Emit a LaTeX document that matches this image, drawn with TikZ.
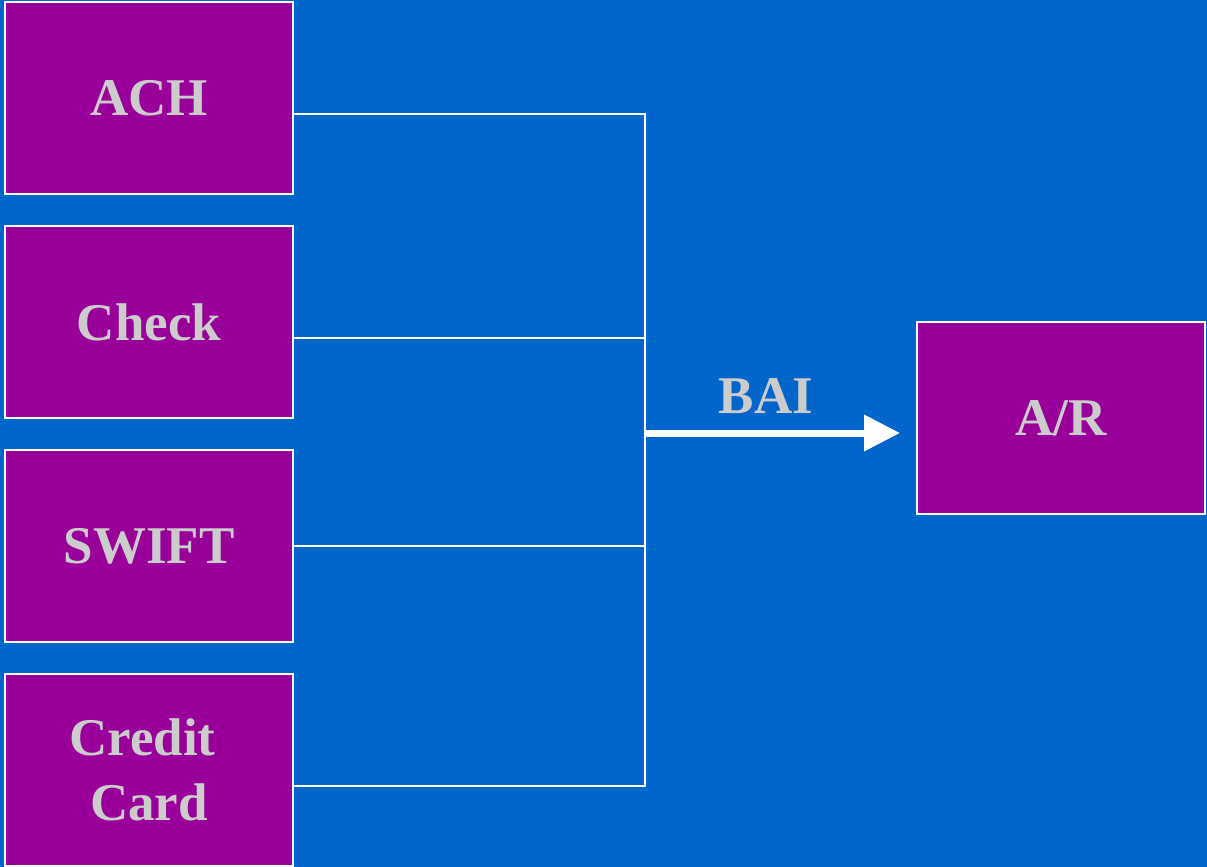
\documentclass[tikz,border=0pt]{standalone}
\usepackage{fontspec}
\setmainfont{Liberation Serif}
\usetikzlibrary{calc,arrows.meta}
\definecolor{bgblue}{HTML}{0066CC}
\definecolor{boxpurple}{HTML}{990099}
\definecolor{txtgray}{HTML}{CCCCCC}
\begin{document}
\begin{tikzpicture}[x=1pt,y=-1pt,
  box/.style={draw=white,line width=2pt,fill=boxpurple,minimum width=288pt,minimum height=192pt,inner sep=0pt,text=txtgray,font=\fontsize{53}{65}\selectfont\bfseries,align=center},
  wire/.style={draw=white,line width=1.5pt},
  lbl/.style={text=txtgray,font=\fontsize{53}{65}\selectfont\bfseries,inner sep=0pt}]
\fill[bgblue] (0,0) rectangle (1207,867);
\useasboundingbox (0,0) rectangle (1207,867);
\node[box] (ach) at (149,98) {ACH};
\node[box] (check) at (149,322) {Check};
\node[box] (swift) at (149,546) {SWIFT};
\node[box] (credit) at (149,770) {Credit\kern13pt\\Card};
\node[box] (ar) at (1061,418) {A/R};
\coordinate (top) at (645,114);
\coordinate (bot) at (645,786);
\coordinate (j) at (645,433);
\draw[wire] ($(ach.east)+(0,16)$) -- (top) -- (bot) -- ($(credit.east)+(0,16)$);
\draw[wire] ($(check.east)+(0,16)$) -- ($(check.east)+(352,16)$);
\draw[wire] (swift.east) -- (swift.east -| j);
\draw[draw=white,line width=7pt,-{Triangle[width=35pt,length=36pt]}] (j) -- ($(ar.west)+(-16,15)$);
\node[lbl,anchor=base] (bai) at (766,413) {BAI};
\end{tikzpicture}
\end{document}
